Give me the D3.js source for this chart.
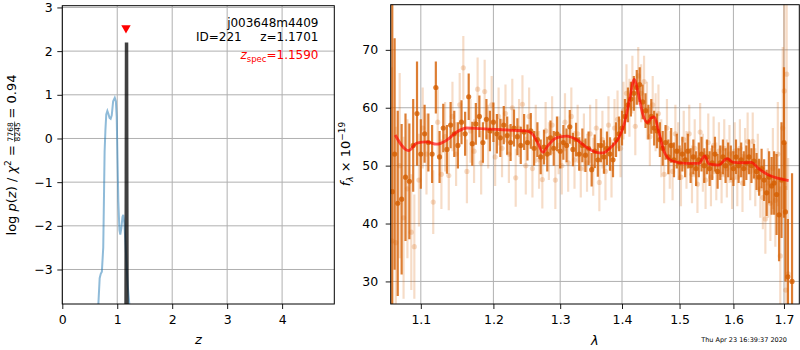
<!DOCTYPE html>
<html><head><meta charset="utf-8">
<script src="https://cdn.jsdelivr.net/npm/d3@7"></script>
<style>body{margin:0;background:#fff} svg{display:block;font-family:"DejaVu Sans",sans-serif}</style>
</head><body><svg id="c" width="800" height="350"></svg>
<script>
// ---------- LEFT PANEL DATA: redshift PDF ----------
const pzZ    = [0.656,0.68,0.70,0.72,0.745,0.76,0.77,0.785,0.80,0.82,0.84,0.86,0.88,0.90,0.925,0.955,0.975,0.99,1.005,1.02,1.04,1.055,1.075,1.095,1.11,1.13,1.15,1.17,1.19,1.22];
const pzLogp = [-3.8,-3.2,-3.1,-3.05,-2.5,-1.2,-0.3,0.2,0.55,0.63,0.56,0.47,0.45,0.53,0.85,0.93,0.85,0.5,-0.5,-1.45,-2.1,-2.2,-2.05,-1.8,-1.75,-1.95,-2.4,-2.9,-3.35,-3.8];
const peakZ    = [1.160,1.165,1.169,1.173,1.178];
const peakLogp = [-3.8,-0.8,2.2,-0.8,-3.8];
const zSpec = 1.1590, zSpecMark = 2.5;
const zTicks = [0,1,2,3,4];
const pTicks = [-3,-2,-1,0,1,2,3];
const labelName = "j003648m4409", labelId = "ID=221", labelZ = "z=1.1701", labelZspec = "=1.1590";

// ---------- RIGHT PANEL DATA: spectrum ----------
const darkWave = [1.063,1.066,1.070,1.075,1.080,1.085,1.090,1.095,1.100,1.105,1.110,1.115,1.120,1.125,1.130,1.135,1.140,1.145,1.150,1.155,1.160,1.165,1.170,1.175,1.180,1.185,1.190,1.195,1.200,1.205,1.210,1.215,1.220,1.225,1.230,1.235,1.240,1.245,1.250,1.255,1.260,1.265,1.270,1.275,1.280,1.285,1.290,1.295,1.300,1.305,1.310,1.315,1.320,1.325,1.330,1.335,1.340,1.345,1.350,1.355,1.360,1.365,1.370,1.375,1.380,1.385,1.390,1.395,1.400,1.405,1.410,1.415,1.420,1.425,1.430,1.435,1.440,1.445,1.450,1.455,1.460,1.465,1.470,1.475,1.480,1.485,1.490,1.495,1.500,1.505,1.510,1.515,1.520,1.525,1.530,1.535,1.540,1.545,1.550,1.555,1.560,1.565,1.570,1.575,1.580,1.585,1.590,1.595,1.600,1.605,1.610,1.615,1.620,1.625,1.630,1.635,1.640,1.645,1.650,1.655,1.660,1.665,1.670,1.675,1.680,1.685,1.690,1.695,1.700,1.703,1.708,1.7165];
const darkFlux = [45.5,52.0,43.5,44.2,48.0,47.3,53.5,59.0,52.0,55.5,54.0,52.0,63.5,51.5,56.5,52.8,57.0,55.5,53.5,57.5,55.5,61.9,53.8,57.2,58.5,54.0,58.0,56.0,57.5,55.5,54.8,57.0,55.2,54.0,56.5,55.0,53.5,55.8,54.0,56.0,53.0,54.5,51.5,53.2,52.0,54.8,53.0,55.5,52.5,54.0,53.5,56.7,52.8,54.5,52.0,53.5,51.8,53.0,49.3,52.5,51.0,53.5,51.5,53.0,52.0,51.0,54.5,55.5,56.5,58.5,60.5,61.5,62.5,63.5,64.0,61.0,59.5,57.5,58.5,56.5,56.0,54.5,53.0,54.0,51.5,53.5,51.0,52.5,50.5,52.0,51.0,52.5,50.0,51.5,49.5,51.0,52.0,50.0,51.5,49.5,50.5,52.0,49.0,50.5,51.5,50.0,51.0,50.5,49.5,51.5,50.0,51.0,49.5,50.5,51.5,50.0,50.8,49.0,48.0,49.5,47.5,45.3,48.0,46.5,47.0,45.0,41.5,47.5,54.0,42.0,30.8,30.0];
const darkErr  = [35,20,16,13,11,10,8,9,6,5,5,5,4.5,4.5,4.2,4.2,4,4,4,3.8,3.8,4,3.8,3.6,3.6,3.5,3.5,3.5,3.4,3.4,3.3,3.3,3.3,3.2,3.2,3.2,3.2,3.1,3.1,3.1,3,3,3,3,3,3,3,3,3,3,2.9,2.9,2.9,2.9,2.9,2.9,2.9,2.9,2.9,2.9,2.9,2.9,2.9,2.9,2.9,3,3,3,3,3,3,3,3,3,3,3,3,3,3,3,3,3,3,3,3,3,3,3,3,3,3,3,3,3,3,3,3,3,3,3,3,3,3,3,3,3,3,3,3,3,3,3,3,3,3,3,3,3.2,3.2,3.4,3.6,4,4.5,5,5.5,7,8,10,13,12,10,18.7];

const lightWave = [1.0625,1.0675,1.0725,1.0775,1.0825,1.0875,1.0915,1.0975,1.1025,1.1075,1.1165,1.1225,1.1275,1.1325,1.1375,1.1425,1.1475,1.1525,1.1575,1.1625,1.1675,1.1725,1.1775,1.1825,1.1875,1.1925,1.1975,1.2025,1.2075,1.2125,1.2175,1.2225,1.2275,1.2325,1.2375,1.2425,1.2475,1.2525,1.2575,1.2625,1.2675,1.2725,1.2775,1.2825,1.2875,1.2925,1.2975,1.3025,1.3075,1.3125,1.3175,1.3225,1.3275,1.3325,1.3375,1.3425,1.3475,1.3525,1.3575,1.3625,1.3675,1.3725,1.3775,1.3825,1.3875,1.3925,1.3975,1.4025,1.4075,1.4125,1.4175,1.4225,1.4275,1.4325,1.4375,1.4425,1.4475,1.4525,1.4575,1.4625,1.4675,1.4725,1.4775,1.4825,1.4875,1.4925,1.4975,1.5025,1.5075,1.5125,1.5175,1.5225,1.5275,1.5325,1.5375,1.5425,1.5475,1.5525,1.5575,1.5625,1.5675,1.5725,1.5775,1.5825,1.5875,1.5925,1.5975,1.6025,1.6075,1.6125,1.6175,1.6225,1.6275,1.6325,1.6375,1.6425,1.6475,1.6525,1.6575,1.6625,1.6675,1.6725,1.6775,1.6825,1.6875,1.6925,1.6975,1.7005,1.7035,1.7055,1.7085];
const lightFlux = [37.0,36.7,50.0,41.0,46.0,38.5,36.0,47.5,56.5,52.0,43.7,57.5,48.5,55.0,48.3,58.5,52.0,60.5,66.9,49.0,56.0,52.5,63.2,50.5,62.8,55.0,60.5,51.5,58.5,53.0,59.0,52.0,60.0,47.9,56.5,60.6,50.0,58.5,49.5,55.5,51.0,47.6,56.0,52.5,57.0,47.5,53.5,50.0,57.5,50.5,58.5,51.0,55.5,49.5,54.0,50.5,55.5,49.8,56.5,47.1,54.5,49.0,57.0,49.5,56.5,58.0,53.0,59.5,62.5,60.0,64.0,56.8,65.5,62.5,64.5,59.5,55.0,60.5,57.5,59.0,53.0,48.5,56.5,51.0,49.0,55.5,52.5,48.0,54.5,51.0,55.5,48.5,53.0,46.8,55.8,50.5,47.5,54.0,48.0,53.5,49.0,52.5,48.5,53.0,49.5,52.0,47.5,52.5,48.0,53.0,47.0,51.5,54.2,49.0,54.2,48.0,50.5,46.0,44.5,40.8,47.0,43.5,49.5,44.0,52.0,34.4,56.5,62.9,28.5,65.8,31.3];
const lightErr  = [30,20,16,14,12,10,9,8,7,7,5.5,6,6,6,6,6,5.5,5.5,5.5,5.5,5.5,5.5,5.5,5.5,5.5,5.5,5,5,5,5,5,5,5,5,5,5,5,5,5,5,5,5,5,5,5,5,5,5,5,5,5,5,5,5,5,5,5,5,5,5,5,5,5,5,5,5,5,5,5,5,5,5,5,5,4.5,5,5,5,5,5,5,5,5,5,5,5,5,5,5,5,5,5,5,5,5,5,5,5,5,5,5,5,5,5,5,5,5,5,5,5,5,5,5,5,5,5,5,5,5.5,6,6,6.5,7,8,9,12,14,16,18,20,20];

const modelWave = [1.0667,1.0838,1.0947,1.1079,1.1212,1.1347,1.1484,1.1622,1.1808,1.2047,1.2289,1.2486,1.2586,1.2661,1.2736,1.2813,1.2941,1.3097,1.3254,1.3413,1.3574,1.3682,1.3819,1.3957,1.4040,1.4124,1.4209,1.4265,1.4350,1.4436,1.4494,1.4551,1.4637,1.4725,1.4871,1.5110,1.5351,1.5461,1.5535,1.5720,1.5877,1.6003,1.6164,1.6346,1.6490,1.6689,1.6891,1.7095];
const modelFlux = [55.3,52.6,53.9,54.1,53.7,54.4,55.8,56.5,56.4,56.25,56.1,56.0,55.3,53.8,52.3,53.5,54.8,55.1,54.5,53.2,52.3,52.2,53.2,55.0,57.3,61.3,64.9,63.0,59.0,57.4,58.2,58.4,55.6,52.4,50.8,50.4,50.4,51.7,50.3,50.1,51.2,50.55,50.5,50.55,49.5,48.4,47.8,47.4];
const waveTicks = [1.1,1.2,1.3,1.4,1.5,1.6,1.7];
const fluxTicks = [30,40,50,60,70];
const timestamp = "Thu Apr 23 16:39:37 2020";

// ---------- DRAWING ----------
const svg = d3.select('#c');
const GRID = '#b0b0b0';
const ORANGE = '#d55e00';

const xL = d3.scaleLinear().domain([0,4.95]).range([62.3,334.3]);
const yL = d3.scaleLinear().domain([-3.79,3.04]).range([304,5.7]);
const xR = d3.scaleLog().domain([1.0610,1.7315]).range([390.7,799.3]);
const yR = d3.scaleLinear().domain([26.1,77.8]).range([304,4.7]);

function panel(id, x, y, xt, yt, fx, ylabPad){
  const [x0,x1] = x.range(), [y0,y1] = y.range();
  const g = svg.append('g');
  svg.append('clipPath').attr('id',id).append('rect')
    .attr('x',x0).attr('y',y1).attr('width',x1-x0).attr('height',y0-y1);
  g.append('g').selectAll('line').data(xt).join('line')
    .attr('x1',d=>x(d)).attr('x2',d=>x(d)).attr('y1',y1).attr('y2',y0)
    .attr('stroke',GRID).attr('stroke-width',1);
  g.append('g').selectAll('line').data(yt).join('line')
    .attr('y1',d=>y(d)).attr('y2',d=>y(d)).attr('x1',x0).attr('x2',x1)
    .attr('stroke',GRID).attr('stroke-width',1);
  const data = g.append('g').attr('clip-path',`url(#${id})`);
  return {g, data, draw(){
    const ax = g.append('g').attr('transform',`translate(0,${y0})`)
      .call(d3.axisBottom(x).tickValues(xt).tickFormat(fx).tickSize(5).tickPadding(6).tickSizeOuter(0));
    const ay = g.append('g').attr('transform',`translate(${x0},0)`)
      .call(d3.axisLeft(y).tickValues(yt).tickFormat(d3.format('d')).tickSize(5).tickPadding(ylabPad).tickSizeOuter(0));
    [ax,ay].forEach(a=>{
      a.select('.domain').remove();
      a.selectAll('text').attr('font-size',12.5).attr('font-family','"DejaVu Sans",sans-serif').attr('fill','#000');
      a.selectAll('line').attr('stroke','#000').attr('stroke-width',0.9);
    });
    g.append('rect').attr('x',x0).attr('y',y1).attr('width',x1-x0).attr('height',y0-y1)
      .attr('fill','none').attr('stroke','#000').attr('stroke-width',1);
  }};
}

// Left panel
const L = panel('clipL', xL, yL, zTicks, pTicks, d3.format('d'), 4.5);
const line = d3.line();
L.data.append('path').attr('d', line(pzZ.map((z,i)=>[xL(z),yL(pzLogp[i])])))
  .attr('fill','none').attr('stroke','#1f77b4').attr('stroke-opacity',0.5).attr('stroke-width',2);
L.data.append('path').attr('d', line(peakZ.map((z,i)=>[xL(z),yL(peakLogp[i])])))
  .attr('fill','none').attr('stroke','#000').attr('stroke-opacity',0.75).attr('stroke-width',3.5);
L.draw();
{
  const cx = xL(zSpec), cy = yL(zSpecMark);
  svg.append('path').attr('d',`M${cx-4.7},${cy-4} L${cx+4.7},${cy-4} L${cx},${cy+4.2} Z`).attr('fill','red');
}
svg.append('text').attr('x',318.5).attr('y',26.5).attr('text-anchor','end').attr('font-size',12).text(labelName);
svg.append('text').attr('x',241.7).attr('y',40.7).attr('text-anchor','end').attr('font-size',12).text(labelId);
svg.append('text').attr('x',318.5).attr('y',40.7).attr('text-anchor','end').attr('font-size',12).text(labelZ);
{
  const t = svg.append('text').attr('x',318.5).attr('y',59.3).attr('text-anchor','end').attr('font-size',12).attr('fill','red');
  t.append('tspan').attr('font-style','italic').text('z');
  t.append('tspan').attr('font-size',8.5).attr('dy',2.5).text('spec');
  t.append('tspan').attr('dy',-2.5).text(labelZspec);
}
svg.append('text').attr('x',xL(2.475)).attr('y',344).attr('text-anchor','middle').attr('font-size',13).attr('font-style','italic').text('z');

// left y label
{
  const g = svg.append('g');
  const t1 = g.append('text').attr('font-size',13).attr('x',0).attr('y',0);
  t1.append('tspan').text('log ');
  t1.append('tspan').attr('font-style','italic').text('p');
  t1.append('tspan').text('(');
  t1.append('tspan').attr('font-style','italic').text('z');
  t1.append('tspan').text(') / ');
  t1.append('tspan').attr('font-style','italic').text('χ');
  t1.append('tspan').attr('font-size',9).attr('dy',-5).text('2');
  t1.append('tspan').attr('dy',5).text(' =');
  const w1 = t1.node().getComputedTextLength() + 3;
  const n = g.append('text').attr('font-size',7.5).attr('text-anchor','middle').attr('y',-2.6).text('7768');
  const d = g.append('text').attr('font-size',7.5).attr('text-anchor','middle').attr('y',4.4).text('8245');
  const fw = Math.max(n.node().getComputedTextLength(), d.node().getComputedTextLength()) + 1.5;
  n.attr('x', w1 + fw/2); d.attr('x', w1 + fw/2);
  g.append('line').attr('x1',w1).attr('x2',w1+fw).attr('y1',-1.4).attr('y2',-1.4).attr('stroke','#000').attr('stroke-width',0.6);
  const t2 = g.append('text').attr('font-size',13).attr('x',w1+fw+3).attr('y',0).text('= 0.94');
  const total = w1 + fw + 3 + t2.node().getComputedTextLength();
  g.attr('transform',`translate(16,${155 + total/2}) rotate(-90)`);
}

// Right panel
const R = panel('clipR', xR, yR, waveTicks, fluxTicks, d3.format('.1f'), 7.5);
function errSeries(wave, flux, err, op){
  const s = R.data.append('g');
  s.selectAll('line').data(wave).join('line')
    .attr('x1',d=>xR(d)).attr('x2',d=>xR(d))
    .attr('y1',(d,i)=>yR(flux[i]-err[i])).attr('y2',(d,i)=>yR(flux[i]+err[i]))
    .attr('stroke',ORANGE).attr('stroke-opacity',op).attr('stroke-width',2.2);
  s.selectAll('circle').data(wave).join('circle')
    .attr('cx',d=>xR(d)).attr('cy',(d,i)=>yR(flux[i])).attr('r',2.6)
    .attr('fill',ORANGE).attr('fill-opacity',op);
}
errSeries(lightWave, lightFlux, lightErr, 0.22);
errSeries(darkWave, darkFlux, darkErr, 0.8);
R.data.append('path').attr('d', d3.line().curve(d3.curveMonotoneX)(modelWave.map((w,i)=>[xR(w),yR(modelFlux[i])])))
  .attr('fill','none').attr('stroke','red').attr('stroke-opacity',0.65).attr('stroke-width',2.8);
R.draw();
svg.append('text').attr('x',xR(1.355)).attr('y',345).attr('text-anchor','middle').attr('font-size',13).attr('font-style','italic').text('λ');
{
  const t = svg.append('text').attr('text-anchor','middle').attr('font-size',13)
    .attr('transform','translate(350,154) rotate(-90)');
  t.append('tspan').attr('font-style','italic').text('f');
  t.append('tspan').attr('font-size',9).attr('font-style','italic').attr('dy',3).text('λ');
  t.append('tspan').attr('dy',-3).text(' × 10');
  t.append('tspan').attr('font-size',9).attr('dy',-5).text('−19');
}
svg.append('text').attr('x',787).attr('y',342).attr('text-anchor','end').attr('font-size',6.5).text(timestamp);
</script></body></html>
